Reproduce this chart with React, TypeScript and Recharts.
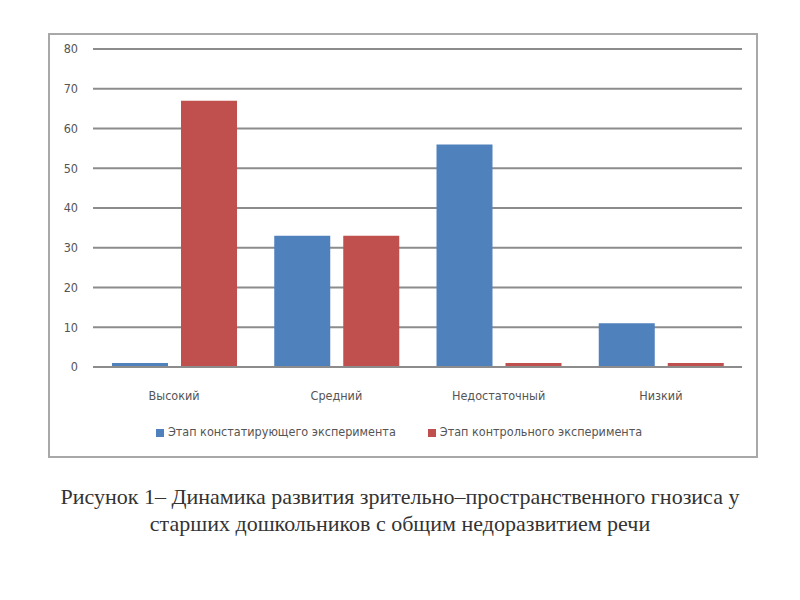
import React from "react";
import { BarChart, Bar, XAxis, YAxis, CartesianGrid, Legend } from "recharts";

const categories = ["Высокий", "Средний", "Недостаточный", "Низкий"];
const stageConstating = [1, 33, 56, 11];
const stageControl = [67, 33, 1, 1];
const yTicks = [0, 10, 20, 30, 40, 50, 60, 70, 80];
const seriesNames = ["Этап констатирующего эксперимента", "Этап контрольного эксперимента"];
const captionLines = [
  "Рисунок 1– Динамика развития зрительно–пространственного гнозиса у",
  "старших дошкольников с общим недоразвитием речи",
];

const data = categories.map((c, i) => ({
  name: c,
  a: stageConstating[i],
  b: stageControl[i],
}));

const FONT = "'Liberation Sans Narrow', 'DejaVu Sans Condensed', 'Liberation Sans', Arial, sans-serif";

export default function App() {
  return (
    <div style={{ position: "absolute", left: 0, top: 0, width: 800, height: 600, background: "#fff" }}>
      <div
        style={{
          position: "absolute",
          left: 48,
          top: 33,
          width: 706,
          height: 421,
          border: "2px solid #a8a8a8",
        }}
      />
      <div style={{ position: "absolute", left: 0, top: 0 }}>
        <BarChart
          width={800}
          height={460}
          data={data}
          margin={{ top: 49, right: 58, left: 0, bottom: 48 }}
          barCategoryGap={19}
          barGap={13}
        >
          <CartesianGrid horizontal vertical={false} stroke="#8c8c8c" strokeWidth={2} />
          <XAxis
            dataKey="name"
            axisLine={{ stroke: "#8c8c8c", strokeWidth: 2 }}
            tickLine={false}
            tickMargin={18}
            height={30}
            tick={{ fill: "#555", fontSize: 12.5, fontFamily: FONT }}
          />
          <YAxis
            width={93}
            domain={[0, 80]}
            ticks={yTicks}
            axisLine={false}
            tickLine={false}
            tickMargin={9}
            tick={{ fill: "#555", fontSize: 12.5, fontFamily: FONT }}
          />
          <Legend
            verticalAlign="bottom"
            iconType="square"
            iconSize={8}
            wrapperStyle={{ fontFamily: FONT, fontSize: 12.5, color: "#555", top: 424, left: 0, width: 808 }}
            formatter={(v: string, _e: any, i: number) => (
              <span style={{ color: "#555", marginRight: i === 0 ? 22 : 0 }}>{v}</span>
            )}
          />
          <Bar dataKey="a" name={seriesNames[0]} fill="#4F81BD" isAnimationActive={false} />
          <Bar dataKey="b" name={seriesNames[1]} fill="#C0504D" isAnimationActive={false} />
        </BarChart>
      </div>
      <div
        style={{
          position: "absolute",
          left: 0,
          top: 483,
          width: 800,
          textAlign: "center",
          fontFamily: "'Liberation Serif', 'Times New Roman', serif",
          fontSize: 22,
          lineHeight: "27px",
          color: "#333",
        }}
      >
        {captionLines.map((l, i) => (
          <div key={i}>{l}</div>
        ))}
      </div>
    </div>
  );
}
